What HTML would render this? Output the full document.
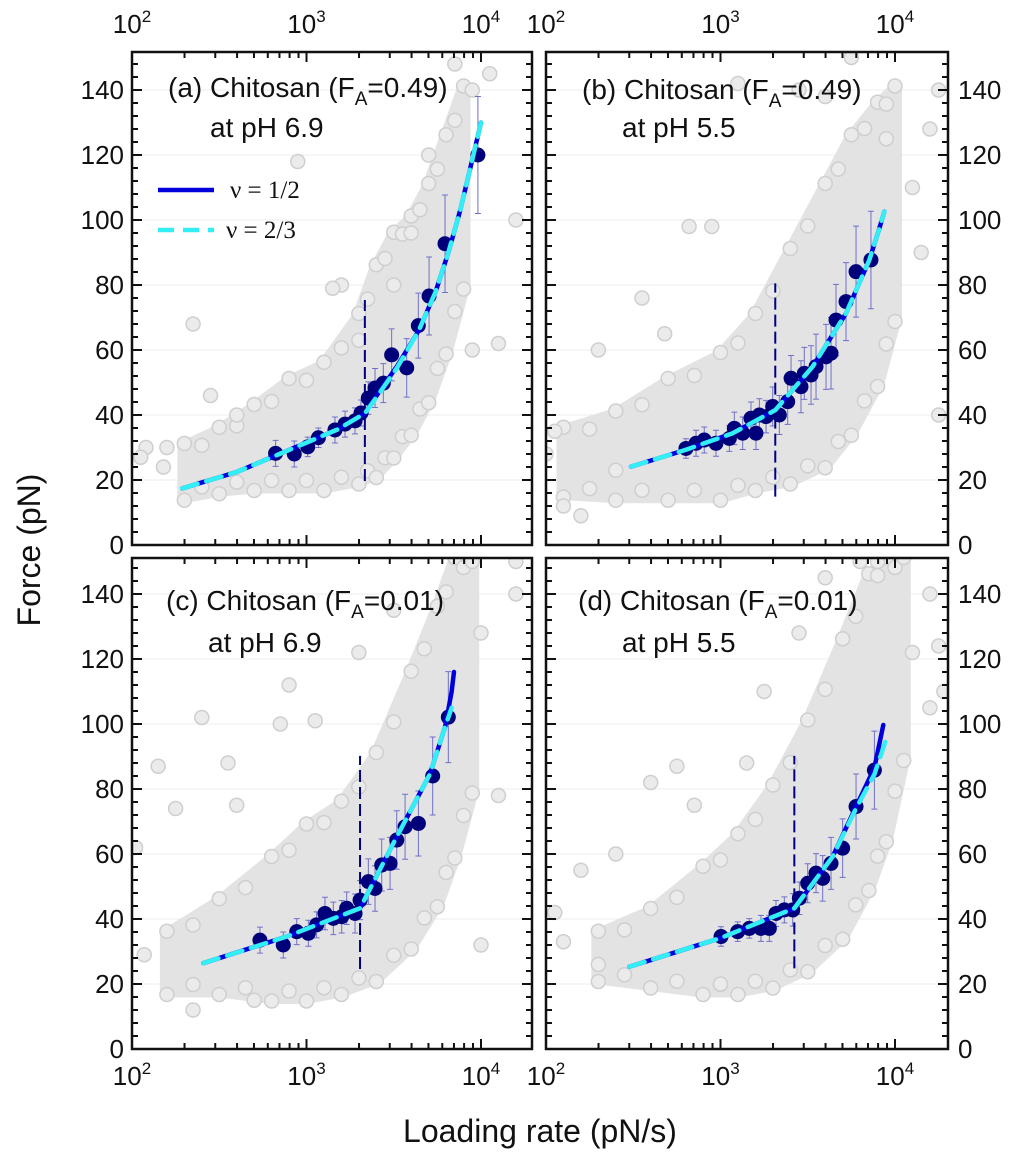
<!DOCTYPE html>
<html><head><meta charset="utf-8"><style>
html,body{margin:0;padding:0;background:#fff;}
svg{display:block;font-family:"Liberation Sans",sans-serif;}
</style></head><body>
<svg id="fig" width="1024" height="1162" viewBox="0 0 1024 1162"></svg>
<script>
// ---------- data ----------
const panelTitles = ["(a) Chitosan (F", "(b) Chitosan (F", "(c) Chitosan (F", "(d) Chitosan (F"];
const panelFA = ["=0.49)", "=0.49)", "=0.01)", "=0.01)"];
const panelPH = ["at pH 6.9", "at pH 5.5", "at pH 6.9", "at pH 5.5"];
const yTicks = [0, 20, 40, 60, 80, 100, 120, 140];
const xTickLabels = ["2", "3", "4"];

const meanRateA = [665, 851, 1016, 1170, 1456, 1663, 1897, 2052, 2260, 2470, 2756, 3076, 3752, 4373, 5040, 6220, 9600];
const meanForceA = [28.2, 28.0, 30.2, 33.0, 35.4, 37.2, 38.2, 40.6, 45.2, 48.3, 49.8, 58.5, 54.5, 67.5, 76.6, 92.7, 120];
const errA = [4, 4, 3, 3, 4, 4, 4, 4, 5, 6, 6, 8, 9, 10, 12, 15, 18];
const meanRateB = [634, 724, 807, 942, 1124, 1200, 1340, 1495, 1597, 1670, 1824, 1991, 2174, 2427, 2537, 2892, 3022, 3303, 3527, 4025, 4300, 4592, 5240, 5980, 7280];
const meanForceB = [29.7, 31.3, 32.3, 31.3, 32.8, 35.9, 34.4, 39.0, 34.4, 40.0, 39.5, 42.6, 40.0, 44.1, 51.3, 48.7, 52.8, 52.3, 54.9, 57.9, 59.0, 69.2, 74.9, 84.1, 87.7];
const errB = [3, 4, 4, 4, 4, 5, 5, 5, 5, 5, 5, 6, 6, 7, 7, 8, 8, 9, 10, 10, 11, 11, 12, 14, 15];
const meanRateC = [541, 736, 879, 1025, 1143, 1276, 1425, 1591, 1699, 1897, 2027, 2262, 2470, 2698, 3012, 3290, 3672, 4378, 5287, 6498];
const meanForceC = [33.5, 32.0, 36.1, 35.6, 38.2, 41.7, 40.2, 40.7, 43.3, 41.7, 45.8, 51.5, 49.4, 56.6, 57.1, 64.3, 68.4, 69.4, 84.0, 102.1];
const errC = [4, 4, 4, 4, 4, 5, 5, 5, 5, 6, 6, 7, 7, 8, 8, 9, 10, 10, 12, 14];
const meanRateD = [1007, 1254, 1462, 1706, 1905, 2080, 2322, 2593, 2831, 3160, 3527, 3852, 4300, 5012, 5980, 7620];
const meanForceD = [34.6, 36.1, 37.1, 37.1, 37.1, 41.7, 42.8, 42.8, 46.4, 51.0, 54.1, 52.5, 57.1, 61.8, 74.6, 85.8];
const errD = [3, 3, 3, 4, 4, 4, 4, 5, 5, 6, 6, 7, 8, 9, 10, 12];

const fitHalfRateA = [194, 400, 700, 1000, 1500, 2160, 2600, 3300, 4400, 5500, 6500, 7600, 8600, 10000];
const fitHalfForceA = [17.4, 22.5, 28, 31.5, 35.5, 40.5, 47, 55, 66, 78, 90, 103, 115, 130];
const fitTwoThirdRateA = [194, 400, 700, 1000, 1500, 2160, 2600, 3300, 4400, 5500, 6500, 7600, 8600, 10000];
const fitTwoThirdForceA = [17.4, 22.5, 28, 31.5, 35.5, 40.5, 46.5, 54.5, 66, 78, 90, 103, 115, 130];
const fitHalfRateB = [307, 634, 1175, 2060, 3375, 5240, 7130, 8130, 8690];
const fitHalfForceB = [24.1, 29.3, 34.4, 41.5, 54.9, 71.3, 87.7, 97.4, 102.6];
const fitTwoThirdRateB = [307, 634, 1175, 2060, 3375, 5240, 7130, 8130, 8690];
const fitTwoThirdForceB = [24.1, 29.3, 34.4, 41.5, 54.9, 71.3, 87.7, 97.4, 102.6];
const fitHalfRateC = [256, 769, 2027, 3290, 5100, 6230, 6790, 7000];
const fitHalfForceC = [26.4, 34.6, 43.3, 65.3, 84.6, 99.2, 110, 116];
const fitTwoThirdRateC = [256, 769, 2027, 3290, 5100, 6230, 6790];
const fitTwoThirdForceC = [26.4, 34.6, 43.3, 65.3, 84.6, 99.2, 105];
const fitHalfRateD = [300, 995, 2649, 4395, 5980, 7620, 8570];
const fitHalfForceD = [25.3, 34.1, 43.3, 59.2, 74.6, 86.5, 99.7];
const fitTwoThirdRateD = [300, 995, 2649, 4395, 5980, 7620, 8810];
const fitTwoThirdForceD = [25.3, 34.1, 43.3, 59.2, 74.0, 84.5, 94.6];

const crossRate = [2160, 2060, 2027, 2649];
const crossLow = [19.7, 14.9, 24.6, 24.8];
const crossHigh = [75.4, 80.5, 90.2, 90.2];

const cloudLogA = [2.3, 2.5, 2.7, 2.9, 3.1, 3.3, 3.4, 3.5, 3.6, 3.7, 3.8, 3.9];
const cloudLoA = [15, 17, 18, 18, 18, 20, 22, 28, 35, 45, 60, 80];
const cloudHiA = [30, 35, 42, 50, 55, 70, 85, 95, 100, 110, 125, 140];
const cloudLogB = [2.1, 2.4, 2.7, 3.0, 3.2, 3.4, 3.6, 3.75, 3.9, 4.0];
const cloudLoB = [16, 15, 15, 15, 18, 20, 25, 35, 50, 70];
const cloudHiB = [35, 40, 50, 58, 70, 90, 110, 125, 135, 140];
const cloudLogC = [2.2, 2.5, 2.8, 3.0, 3.2, 3.4, 3.6, 3.75, 3.85, 3.95];
const cloudLoC = [18, 18, 16, 16, 18, 22, 32, 45, 60, 80];
const cloudHiC = [35, 45, 58, 68, 75, 90, 115, 135, 150, 150];
const cloudLogD = [2.3, 2.6, 2.9, 3.1, 3.3, 3.5, 3.7, 3.85, 3.95, 4.05];
const cloudLoD = [22, 20, 18, 18, 20, 25, 35, 50, 65, 90];
const cloudHiD = [35, 42, 55, 65, 80, 100, 125, 145, 150, 150];

const outLogA = [2.08, 2.05, 2.18, 2.35, 2.45, 2.95, 3.2, 3.15, 3.5, 3.6, 3.95, 4.1, 4.2, 3.95, 4.05, 3.85, 2.6, 2.2, 3.3, 3.7];
const outForceA = [30, 27, 24, 68, 46, 118, 80, 79, 80, 96, 60, 62, 100, 140, 145, 148, 40, 30, 63, 120];
const outLogB = [2.0, 2.05, 2.1, 2.2, 2.3, 2.55, 2.68, 2.82, 2.95, 3.1, 3.45, 3.6, 4.1, 4.2, 4.25, 4.15, 3.75, 3.95, 2.4, 4.25];
const outForceB = [28, 35, 12, 9, 60, 76, 65, 98, 98, 142, 140, 138, 110, 128, 40, 90, 150, 125, 23, 140];
const outLogC = [2.02, 2.07, 2.15, 2.25, 2.4, 2.55, 2.6, 2.9, 3.05, 3.3, 4.0, 4.1, 4.2, 3.95, 4.2, 2.35, 2.7, 3.5, 4.0, 2.85];
const outForceC = [62, 29, 87, 74, 102, 88, 75, 112, 101, 122, 128, 78, 150, 150, 140, 12, 15, 135, 32, 100];
const outLogD = [2.05, 2.1, 2.2, 2.4, 2.6, 2.75, 2.85, 3.15, 3.25, 3.45, 3.6, 4.2, 4.1, 4.25, 4.28, 3.9, 4.2, 2.3, 3.0, 3.8];
const outForceD = [42, 33, 55, 60, 82, 87, 75, 88, 110, 128, 145, 140, 122, 124, 110, 150, 105, 26, 20, 150];

// ---------- drawing ----------
const NS = "http://www.w3.org/2000/svg";
const svg = document.getElementById("fig");
function mk(tag, attrs, parent) {
  const e = document.createElementNS(NS, tag);
  for (const k in attrs) e.setAttribute(k, attrs[k]);
  (parent || svg).appendChild(e);
  return e;
}
const panels = [
  {L:132, R:532, T:52, B:545, key:"a", yLabelsLeft:true, tx:168, ty1:97, ty2:137, px:210},
  {L:546, R:948, T:52, B:545, key:"b", yLabelsLeft:false, tx:582, ty1:99, ty2:137, px:622},
  {L:132, R:532, T:558, B:1049, key:"c", yLabelsLeft:true, tx:166, ty1:610, ty2:652, px:208},
  {L:546, R:948, T:558, B:1049, key:"d", yLabelsLeft:false, tx:578, ty1:610, ty2:652, px:622}
];
const DEC = 174.5, PPN = 3.25;
const means = [[meanRateA, meanForceA, errA], [meanRateB, meanForceB, errB], [meanRateC, meanForceC, errC], [meanRateD, meanForceD, errD]];
const fits = [
  [fitHalfRateA, fitHalfForceA, fitTwoThirdRateA, fitTwoThirdForceA],
  [fitHalfRateB, fitHalfForceB, fitTwoThirdRateB, fitTwoThirdForceB],
  [fitHalfRateC, fitHalfForceC, fitTwoThirdRateC, fitTwoThirdForceC],
  [fitHalfRateD, fitHalfForceD, fitTwoThirdRateD, fitTwoThirdForceD]];
const clouds = [[cloudLogA, cloudLoA, cloudHiA], [cloudLogB, cloudLoB, cloudHiB], [cloudLogC, cloudLoC, cloudHiC], [cloudLogD, cloudLoD, cloudHiD]];
const outs = [[outLogA, outForceA], [outLogB, outForceB], [outLogC, outForceC], [outLogD, outForceD]];

function grayDot(x, y, parent) {
  const c = mk("circle", {cx: x, cy: y, r: 7, fill: "#ebebeb", stroke: "#cfcfcf", "stroke-width": 1.5}, parent);
  
  
}

panels.forEach((p, i) => {
  const xs = r => p.L + (Math.log10(r) - 2) * DEC;
  const xl = l => p.L + (l - 2) * DEC;
  const ys = f => p.B - f * PPN;
  const g = mk("g", {});
  
  
  const clipId = "clip" + i;
  const cp = mk("clipPath", {id: clipId}, g);
  mk("rect", {x: p.L, y: p.T, width: p.R - p.L, height: p.B - p.T}, cp);
  const inner = mk("g", {"clip-path": "url(#" + clipId + ")"}, g);
  yTicks.forEach(t => {
    if (t === 0) return;
    const gl = mk("line", {x1: p.L, x2: p.R, y1: ys(t), y2: ys(t), stroke: "#eeeeee", "stroke-width": 1}, inner);
    
    
  });
  // cloud
  const [cl, lo, hi] = clouds[i];
  let pts = [];
  cl.forEach((l, k) => pts.push(xl(l) + "," + ys(hi[k])));
  for (let k = cl.length - 1; k >= 0; k--) pts.push(xl(cl[k]) + "," + ys(lo[k]));
  const cloud = mk("polygon", {points: pts.join(" "), fill: "#e3e3e3", stroke: "#e3e3e3", "stroke-width": 14, "stroke-linejoin": "round"}, inner);
  
  
  // edge texture dots along the cloud envelope
  for (let k = 0; k < cl.length; k++) {
    grayDot(xl(cl[k]), ys(hi[k]) - 4, inner);
    grayDot(xl(cl[k]), ys(lo[k]) + 4, inner);
    if (k < cl.length - 1) {
      grayDot((xl(cl[k]) + xl(cl[k+1])) / 2, (ys(hi[k]) + ys(hi[k+1])) / 2 + 6, inner);
      grayDot((xl(cl[k]) + xl(cl[k+1])) / 2, (ys(lo[k]) + ys(lo[k+1])) / 2 - 6, inner);
    }
  }
  const [ol, of] = outs[i];
  ol.forEach((l, k) => grayDot(xl(l), ys(of[k]), inner));
  // error bars & means
  const [mr, mf, me] = means[i];
  mr.forEach((r, k) => {
    const x = xs(r);
    const eb = mk("path", {d: `M${x},${ys(mf[k]-me[k])}V${ys(mf[k]+me[k])}M${x-3},${ys(mf[k]-me[k])}h6M${x-3},${ys(mf[k]+me[k])}h6`, stroke: "#7070c8", "stroke-width": 1, fill: "none"}, inner);
    
    
  });
  mr.forEach((r, k) => {
    const c = mk("circle", {cx: xs(r), cy: ys(mf[k]), r: 7.5, fill: "#00007a"}, inner);
    
    
  });
  const vl = mk("line", {x1: xs(crossRate[i]), x2: xs(crossRate[i]), y1: ys(crossLow[i]), y2: ys(crossHigh[i]), stroke: "#000080", "stroke-width": 2, "stroke-dasharray": "12,5"}, inner);
  
  
  const [hr, hf, tr, tf] = fits[i];
  const l1 = mk("polyline", {points: hr.map((r, k) => xs(r) + "," + ys(hf[k])).join(" "), fill: "none", stroke: "#0000dd", "stroke-width": 4.5, "stroke-linejoin": "round", "stroke-linecap": "round"}, inner);
  
  
  const l2 = mk("polyline", {points: tr.map((r, k) => xs(r) + "," + ys(tf[k])).join(" "), fill: "none", stroke: "#33eef5", "stroke-width": 4.5, "stroke-dasharray": "16,9", "stroke-linejoin": "round", "stroke-linecap": "round"}, inner);
  
  
  const fr = mk("rect", {x: p.L, y: p.T, width: p.R - p.L, height: p.B - p.T, fill: "none", stroke: "#111", "stroke-width": 2.5}, g);
  
  
  let d = "";
  for (let dec = 2; dec <= 4; dec++) {
    for (let m = 1; m <= 9; m++) {
      const x = p.L + (dec - 2 + Math.log10(m)) * DEC;
      if (x > p.R - 1) continue;
      const len = m === 1 ? 10 : 6;
      d += `M${x},${p.B}v${-len}M${x},${p.T}v${len}`;
    }
  }
  for (let f = 4; f < 152; f += 4) {
    const len = f % 20 === 0 ? 10 : 6;
    d += `M${p.L},${ys(f)}h${len}M${p.R},${ys(f)}h${-len}`;
  }
  const tk = mk("path", {d: d, stroke: "#111", "stroke-width": 2, fill: "none"}, g);
  
  
  yTicks.forEach(t => {
    const tx = mk("text", {x: p.yLabelsLeft ? p.L - 8 : p.R + 10, y: ys(t) + 9, "font-size": 26, "text-anchor": p.yLabelsLeft ? "end" : "start", fill: "#111"}, g);
    tx.textContent = t;
    
    
  });
  const isTop = p.T < 100;
  xTickLabels.forEach((e, k) => {
    const x = p.L + k * DEC;
    const tx = mk("text", {x: x, y: isTop ? 33 : 1085, "font-size": 26, "text-anchor": "middle", fill: "#111"}, g);
    tx.textContent = "10";
    const sp = mk("tspan", {"font-size": 17, dy: -11}, tx);
    sp.textContent = e;
    
    
  });
  const t1 = mk("text", {x: p.tx, y: p.ty1, "font-size": 28, fill: "#111"}, g);
  t1.appendChild(document.createTextNode(panelTitles[i]));
  const sub = mk("tspan", {"font-size": 19, dy: 8}, t1);
  sub.textContent = "A";
  const rest = mk("tspan", {dy: -8}, t1);
  rest.textContent = panelFA[i];
  
  
  const t2 = mk("text", {x: p.px, y: p.ty2, "font-size": 28, fill: "#111"}, g);
  t2.textContent = panelPH[i];
  
  
});

const lg = mk("g", {});


const le1 = mk("line", {x1: 158, x2: 214, y1: 190, y2: 190, stroke: "#0000dd", "stroke-width": 4.5}, lg);


const lt1 = mk("text", {x: 230, y: 198, "font-size": 25, "font-family": "Liberation Serif, serif", fill: "#111"}, lg);
lt1.textContent = "ν = 1/2";


const le2 = mk("line", {x1: 158, x2: 214, y1: 230, y2: 230, stroke: "#33eef5", "stroke-width": 4.5, "stroke-dasharray": "16,9"}, lg);


const lt2 = mk("text", {x: 226, y: 238, "font-size": 25, "font-family": "Liberation Serif, serif", fill: "#111"}, lg);
lt2.textContent = "ν = 2/3";



const yt = mk("text", {x: 0, y: 0, "font-size": 32, "text-anchor": "middle", fill: "#111", transform: "translate(40,550) rotate(-90)"});
yt.textContent = "Force (pN)";


const xt = mk("text", {x: 540, y: 1142, "font-size": 32, "text-anchor": "middle", fill: "#111"});
xt.textContent = "Loading rate (pN/s)";


</script>
</body></html>
